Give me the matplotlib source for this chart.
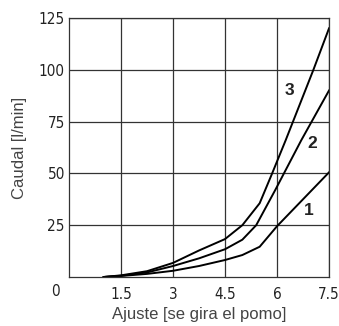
import matplotlib.pyplot as plt
import numpy as np

# Ajuste (vueltas del pomo) y caudal en l/min para cada curva
x1 = [1.0, 1.5, 2.25, 3.0, 3.75, 4.5, 5.0, 5.5, 6.0, 7.5]
q1 = [0.0, 0.5, 1.5, 3.0, 5.3, 8.2, 10.6, 14.6, 24.5, 50.5]
x2 = [1.0, 1.5, 2.25, 3.0, 3.75, 4.5, 5.0, 5.4, 5.95, 6.7, 7.5]
q2 = [0.0, 0.6, 2.2, 5.3, 9.0, 13.4, 18.0, 25.0, 42.0, 66.0, 90.0]
x3 = [1.0, 1.5, 2.25, 3.0, 3.75, 4.5, 5.0, 5.5, 5.85, 6.25, 7.05, 7.5]
q3 = [0.0, 0.8, 2.8, 6.8, 12.8, 18.3, 25.0, 35.6, 49.6, 66.0, 100.0, 120.0]

xticks = [1.5, 3, 4.5, 6, 7.5]
yticks = [25, 50, 75, 100, 125]

fig = plt.figure(figsize=(3.39, 3.26), dpi=100)
ax = fig.add_axes([69/339, 1 - 277/326, 260/339, 259/326])

for xs, qs in [(x1, q1), (x2, q2), (x3, q3)]:
    ax.plot(xs, qs, color='black', lw=1.4, solid_joinstyle='round')

lab = dict(fontsize=12.5, fontweight='bold', ha='center', va='center',
           family='Liberation Sans', color='#222222')
ax.text(6.93, 32, '1', **lab)
ax.text(7.03, 64.5, '2', **lab)
ax.text(6.35, 90, '3', **lab)

ax.set_xlim(0, 7.5)
ax.set_ylim(0, 125)
ax.set_xticks(xticks)
ax.set_yticks(yticks)
tick_font = dict(family='DejaVu Sans', stretch='condensed', size=11,
                 color='#222222')
ax.set_xticklabels(['1.5', '3', '4.5', '6', '7.5'], **tick_font)
ax.set_yticklabels(['25', '50', '75', '100', '125'], **tick_font)
ax.tick_params(axis='x', length=0, pad=7)
ax.tick_params(axis='y', length=0, pad=3)
ax.grid(True, color='#333333', lw=0.9)
for s in ax.spines.values():
    s.set_color('#333333')
    s.set_linewidth(0.9)
ax.text(-0.035, -0.027, '0', transform=ax.transAxes, ha='right', va='top',
        **tick_font)

ax.set_xlabel('Ajuste [se gira el pomo]', fontsize=12, color='#444444',
              family='Liberation Sans', labelpad=4)
ax.set_ylabel('Caudal [l/min]', fontsize=12, color='#444444',
              family='Liberation Sans', labelpad=8)

fig.savefig('out.png', dpi=100)
